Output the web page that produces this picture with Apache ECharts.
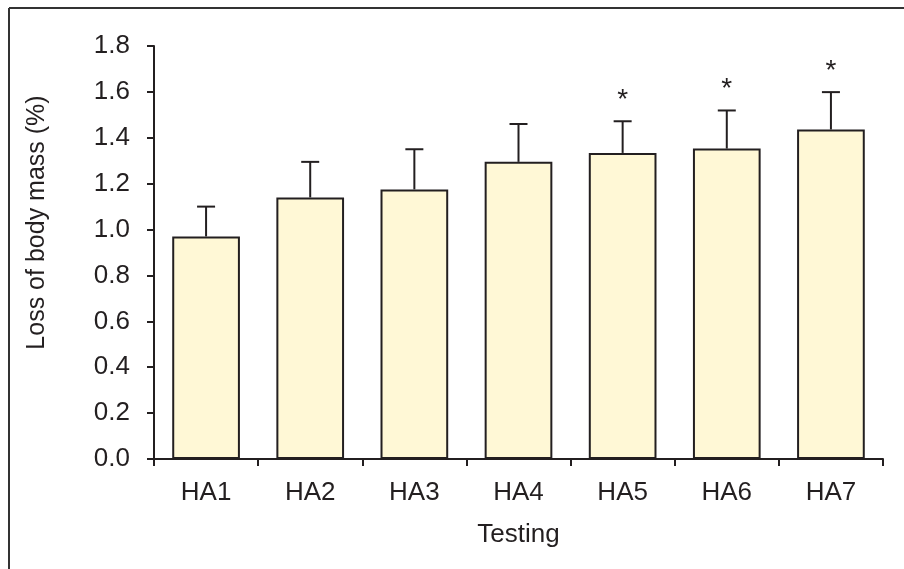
<!DOCTYPE html>
<html>
<head>
<meta charset="utf-8">
<script src="https://cdn.jsdelivr.net/npm/echarts@6/dist/echarts.min.js"></script>
<style>
  html, body { margin: 0; padding: 0; background: #fff; }
  #chart { width: 904px; height: 569px; }
</style>
</head>
<body>
<div id="chart"></div>
<script>
// Heat-acclimation sessions and body-mass loss (mean + SD)
var categories = ['HA1', 'HA2', 'HA3', 'HA4', 'HA5', 'HA6', 'HA7'];
var meanLoss = [0.97, 1.14, 1.175, 1.295, 1.334, 1.353, 1.436];
var sdLoss = [0.13, 0.155, 0.175, 0.165, 0.138, 0.166, 0.163];
var significant = [false, false, false, false, true, true, true];
var yTicks = [0, 0.2, 0.4, 0.6, 0.8, 1.0, 1.2, 1.4, 1.6, 1.8];

var FONT = '"Liberation Sans", Arial, Helvetica, sans-serif';
var INK = '#231f20';

var chart = echarts.init(document.getElementById('chart'), null, { renderer: 'canvas' });

var errData = categories.map(function (c, i) {
  return [i, meanLoss[i], meanLoss[i] + sdLoss[i], significant[i] ? 1 : 0];
});

chart.setOption({
  animation: false,
  backgroundColor: '#ffffff',
  grid: { left: 154, right: 21, top: 46, bottom: 110, containLabel: false },
  graphic: [
    { type: 'line', shape: { x1: 9, y1: 8, x2: 904, y2: 8 }, style: { stroke: '#333', lineWidth: 2 } },
    { type: 'line', shape: { x1: 9, y1: 8, x2: 9, y2: 569 }, style: { stroke: '#333', lineWidth: 2 } }
  ],
  xAxis: {
    type: 'category',
    data: categories,
    boundaryGap: true,
    name: 'Testing',
    nameLocation: 'middle',
    nameGap: 63,
    nameTextStyle: { fontFamily: FONT, fontSize: 26, color: INK },
    axisLine: { lineStyle: { color: INK, width: 2 } },
    axisTick: { show: true, inside: false, length: 7, alignWithLabel: false, lineStyle: { color: INK, width: 2 } },
    axisLabel: { fontFamily: FONT, fontSize: 26, color: INK, margin: 21 },
    splitLine: { show: false }
  },
  yAxis: {
    type: 'value',
    min: yTicks[0],
    max: yTicks[yTicks.length - 1],
    interval: 0.2,
    name: 'Loss of body mass (%)',
    nameLocation: 'middle',
    nameGap: 104,
    nameRotate: 90,
    nameTextStyle: { fontFamily: FONT, fontSize: 25, color: INK, padding: [0, 0, 0, 60] },
    axisLine: { show: true, lineStyle: { color: INK, width: 2 } },
    axisTick: { show: true, inside: false, length: 7, lineStyle: { color: INK, width: 2 } },
    axisLabel: {
      fontFamily: FONT, fontSize: 26, color: INK, margin: 24,
      formatter: function (v) { return v.toFixed(1); }
    },
    splitLine: { show: false }
  },
  series: [
    {
      type: 'bar',
      data: meanLoss,
      barWidth: '65%',
      itemStyle: { color: '#fff8d6', borderColor: INK, borderWidth: 2 },
      z: 2
    },
    {
      type: 'custom',
      data: errData,
      z: 3,
      renderItem: function (params, api) {
        var i = api.value(0);
        var base = api.coord([i, api.value(1)]);
        var top = api.coord([i, api.value(2)]);
        var half = 9;
        var children = [
          { type: 'line', shape: { x1: top[0], y1: base[1], x2: top[0], y2: top[1] },
            style: { stroke: INK, lineWidth: 2 } },
          { type: 'line', shape: { x1: top[0] - half, y1: top[1], x2: top[0] + half, y2: top[1] },
            style: { stroke: INK, lineWidth: 2 } }
        ];
        if (api.value(3) === 1) {
          children.push({
            type: 'text',
            style: {
              text: '*', x: top[0], y: top[1] - 21,
              textAlign: 'center', textVerticalAlign: 'middle',
              font: '28px ' + FONT, fill: INK
            }
          });
        }
        return { type: 'group', children: children };
      }
    }
  ]
});
</script>
</body>
</html>
